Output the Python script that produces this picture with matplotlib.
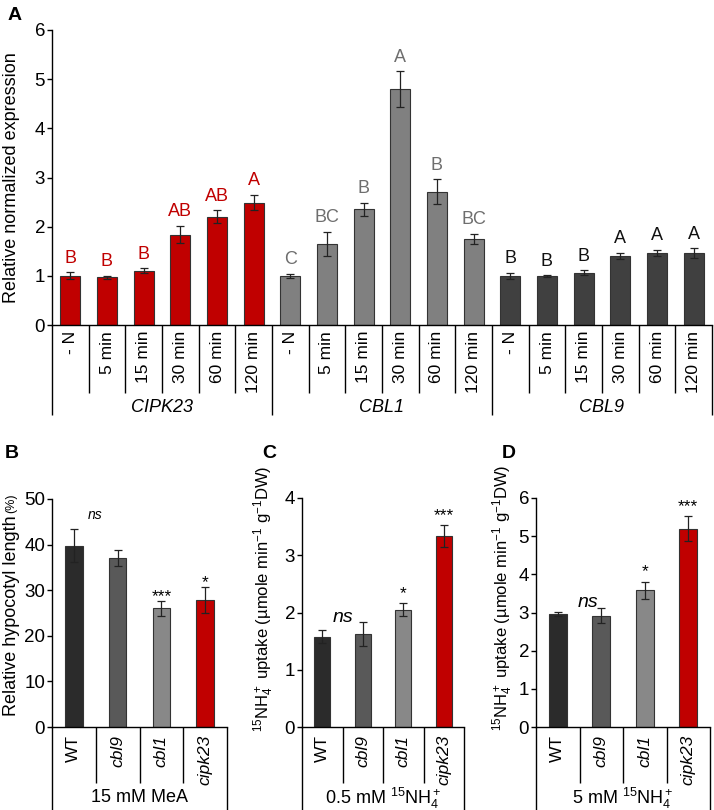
import matplotlib
matplotlib.use('Agg')
import matplotlib.pyplot as plt

plt.rcParams['font.family'] = ['Liberation Sans', 'DejaVu Sans']
plt.rcParams['mathtext.fontset'] = 'custom'
plt.rcParams['mathtext.rm'] = 'Liberation Sans'
plt.rcParams['mathtext.it'] = 'Liberation Sans:italic'
plt.rcParams['mathtext.bf'] = 'Liberation Sans:bold'
plt.rcParams['mathtext.default'] = 'regular'

# ---------------- data ----------------
a_times = ['- N', '5 min', '15 min', '30 min', '60 min', '120 min']
a_genes = ['CIPK23', 'CBL1', 'CBL9']
cipk23_mean = [1.00, 0.97, 1.10, 1.84, 2.20, 2.49]
cipk23_err = [0.07, 0.03, 0.05, 0.17, 0.13, 0.15]
cipk23_letters = ['B', 'B', 'B', 'AB', 'AB', 'A']
cbl1_mean = [1.00, 1.65, 2.35, 4.80, 2.71, 1.75]
cbl1_err = [0.04, 0.25, 0.13, 0.36, 0.25, 0.11]
cbl1_letters = ['C', 'BC', 'B', 'A', 'B', 'BC']
cbl9_mean = [1.00, 0.99, 1.06, 1.41, 1.47, 1.46]
cbl9_err = [0.06, 0.02, 0.05, 0.06, 0.06, 0.10]
cbl9_letters = ['B', 'B', 'B', 'A', 'A', 'A']

genotypes = ['WT', 'cbl9', 'cbl1', 'cipk23']
hypo_mean = [39.8, 37.0, 26.0, 27.8]
hypo_err = [3.6, 1.8, 1.6, 2.9]
hypo_sig = ['', '', '***', '*']
up05_mean = [1.58, 1.62, 2.05, 3.33]
up05_err = [0.12, 0.21, 0.11, 0.19]
up05_sig = ['', '', '*', '***']
up5_mean = [2.97, 2.92, 3.58, 5.20]
up5_err = [0.05, 0.19, 0.23, 0.33]
up5_sig = ['', '', '*', '***']

# ---------------- style ----------------
RED = '#C00000'
gene_colors = [RED, '#808080', '#404040']
letter_colors = [RED, '#6E6E6E', '#111111']
geno_colors = ['#2B2B2B', '#595959', '#888888', RED]
EDGE = '#333333'
LW = 1.0

W, H = 714, 810
fig = plt.figure(figsize=(W / 100, H / 100), dpi=100)


def px_axes(l, t, r, b):
    return fig.add_axes([l / W, 1 - b / H, (r - l) / W, (b - t) / H])


def style_axes(ax, ymax, step):
    for s in ['top', 'right']:
        ax.spines[s].set_visible(False)
    for s in ['left', 'bottom']:
        ax.spines[s].set_linewidth(LW)
    ax.set_ylim(0, ymax)
    ax.set_yticks([i * step for i in range(int(round(ymax / step)) + 1)])
    ax.set_xticks([])
    ax.tick_params(axis='y', direction='out', length=3.5, width=LW, pad=1.5, labelsize=13.5)


def vline(ax, x, y0, y1):
    ax.plot([x, x], [y0, y1], transform=ax.get_xaxis_transform(), color='black',
            lw=LW, clip_on=False, solid_capstyle='butt')


# ---------------- panel A ----------------
axA = px_axes(52, 30, 712, 325)
means = [cipk23_mean, cbl1_mean, cbl9_mean]
errs = [cipk23_err, cbl1_err, cbl9_err]
letters = [cipk23_letters, cbl1_letters, cbl9_letters]
n_t = len(a_times)
for g in range(3):
    xs = [g * n_t + i for i in range(n_t)]
    axA.bar(xs, means[g], width=0.54, color=gene_colors[g], edgecolor=EDGE, linewidth=0.8,
            yerr=errs[g], error_kw=dict(ecolor='#222222', elinewidth=0.9, capsize=2.8, capthick=0.9),
            zorder=2)
    for x, m, e, L in zip(xs, means[g], errs[g], letters[g]):
        axA.annotate(L, xy=(x, m + e), xytext=(0, 7), textcoords='offset points',
                     ha='center', va='baseline', fontsize=13, color=letter_colors[g])
axA.set_xlim(-0.5, 3 * n_t - 0.5)
style_axes(axA, 6, 1)
axA.set_ylabel('Relative normalized expression', fontsize=13)
axA.yaxis.set_label_coords(-0.049, 0.5)
trA = axA.get_xaxis_transform()
for g in range(3):
    for i in range(n_t):
        x = g * n_t + i
        axA.text(x, -0.02, a_times[i], transform=trA, rotation=90, ha='center', va='top',
                 fontsize=12.5)
        if i < n_t - 1:
            vline(axA, x + 0.5, 0, -0.2305)
    axA.text(g * n_t + (n_t - 1) / 2, -0.281, a_genes[g], transform=trA, ha='center',
             va='center', fontsize=13, style='italic')
for xb in [-0.5, n_t - 0.5, 2 * n_t - 0.5, 3 * n_t - 0.5]:
    vline(axA, xb, 0, -0.305)


# ---------------- panels B-D ----------------
def small_panel(box, mean, err, sig, ymax, ylabel, ylabel_size, group_label, sig_off, width,
                label_x, label_y):
    ax = px_axes(*box)
    xs = list(range(len(genotypes)))
    ax.bar(xs, mean, width=width, color=geno_colors, edgecolor=EDGE, linewidth=0.8,
           yerr=err, error_kw=dict(ecolor='#222222', elinewidth=0.9, capsize=3, capthick=0.9),
           zorder=2)
    for x, m, e, s in zip(xs, mean, err, sig):
        if s:
            ax.annotate(s, xy=(x, m + e), xytext=(0, sig_off), textcoords='offset points',
                        ha='center', va='baseline', fontsize=12.5)
    ax.set_xlim(-0.5, len(genotypes) - 0.5)
    style_axes(ax, ymax, ymax / 5 if ymax == 50 else 1)
    ax.set_ylabel(ylabel, fontsize=ylabel_size)
    ax.yaxis.set_label_coords(label_x, label_y)
    tr = ax.get_xaxis_transform()
    h = box[3] - box[1]
    for i, gname in enumerate(genotypes):
        ax.text(i, -8 / h, gname, transform=tr, rotation=90, ha='center', va='top',
                fontsize=12.5, style='normal' if gname == 'WT' else 'italic')
        if i < len(genotypes) - 1:
            vline(ax, i + 0.5, 0, -56 / h)
    for xb in [-0.5, len(genotypes) - 0.5]:
        vline(ax, xb, 0, -(H - box[3]) / h)
    ax.text((len(genotypes) - 1) / 2, -71 / h, group_label, transform=tr, ha='center',
            va='center', fontsize=13)
    return ax


uptake_label = r'$^{15}$NH$_4^+$ uptake (µmole min$^{-1}$ g$^{-1}$DW)'
axB = small_panel((52, 499, 227, 727), hypo_mean, hypo_err, hypo_sig, 50,
                  'Relative hypocotyl length', 13, '15 mM MeA', 0, 0.40, -0.185, 0.487)
axB.set_yticks([0, 10, 20, 30, 40, 50])
axB.text(0.48, 46.5, 'ns', ha='center', va='center', fontsize=10, style='italic')

axC = small_panel((302, 498, 464, 727), up05_mean, up05_err, up05_sig, 4,
                  uptake_label, 12, r'0.5 mM $^{15}$NH$_4^+$', 3.6, 0.40, -0.16, 0.56)
axC.text(0.52, 1.92, 'ns', ha='center', va='center', fontsize=14, style='italic')

axD = small_panel((536, 498, 710, 727), up5_mean, up5_err, up5_sig, 6,
                  uptake_label, 12, r'5 mM $^{15}$NH$_4^+$', 3.6, 0.42, -0.12, 0.565)
axD.text(0.69, 3.27, 'ns', ha='center', va='center', fontsize=14, style='italic')

# "(%)" in smaller type after the hypocotyl label
fig.canvas.draw()
bb = axB.yaxis.label.get_window_extent()
fig.text((bb.x0 + bb.x1) / 2 / W, (bb.y1 + 3) / H, '(%)', rotation=90, ha='center',
         va='bottom', fontsize=9)

# panel letters
for lab, x, y in [('A', 8, 7), ('B', 5, 445), ('C', 262, 445), ('D', 502, 445)]:
    fig.text(x / W, 1 - y / H, lab, ha='left', va='top', fontsize=14, fontweight='bold')

fig.savefig('out.png', dpi=100)
